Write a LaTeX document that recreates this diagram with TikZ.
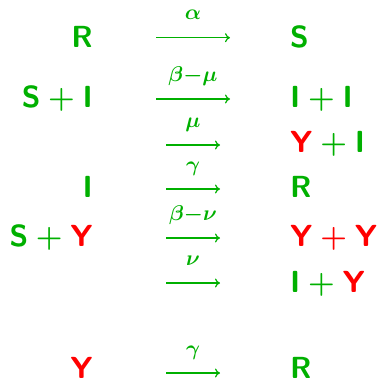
\RequirePackage{fix-cm}
\documentclass[tikz,border=0pt]{standalone}
\usetikzlibrary{arrows.meta}
\definecolor{simgreen}{RGB}{0,176,0}
\newcommand\spc[1]{\textbf{#1}}
\newcommand\infd{\textcolor{red}{\textbf{Y}}}
\newcommand\redplus{\mathbin{\color{red}+}}

\begin{document}
\begin{tikzpicture}[x=1pt,y=-1pt,
  species/.style={inner sep=0pt,text=simgreen,font=\fontsize{30.5}{36}\selectfont\sffamily\boldmath},
  rate/.style={inner sep=0pt,anchor=base,text=simgreen,font=\fontsize{30.5}{36}\selectfont\boldmath},
  react/.style={-{Computer Modern Rightarrow[length=5pt,width=9pt]},simgreen,line width=1.2pt}]
  \useasboundingbox (0,0) rectangle (382,381);
  \def\xl{93}  % right edge of the reactants
  \def\xr{290} % left edge of the products
  % reactants
  \foreach \n/\y/\txt in {1/47/{$\spc{R}$},2/107/{$\spc{S}+\spc{I}$},4/197/{$\spc{I}$},
      5/246/{$\spc{S}+\infd$},7/378.5/{$\infd$}}{
    \node[species,anchor=base east] (lhs\n) at (\xl,\y) {\txt};
  }
  % products
  \foreach \n/\y/\txt in {1/47/{$\spc{S}$},2/107/{$\spc{I}+\spc{I}$},3/152/{$\infd+\spc{I}$},
      4/197/{$\spc{R}$},5/246/{$\infd\redplus\infd$},6/292/{$\spc{I}+\infd$},7/378.5/{$\spc{R}$}}{
    \node[species,anchor=base west] (rhs\n) at (\xr,\y) {\txt};
  }
  % arrows with rates
  \foreach \n/\y/\a/\b/\k in {1/37.7/156/230/{\alpha},2/99/156/230/{\beta-\mu},3/145/166/220/{\mu},
      4/189/166/220/{\gamma},5/238/166/220/{\beta-\nu},6/283/166/220/{\nu},7/373/166/220/{\gamma}}{
    \coordinate (from\n) at (\a,\y);
    \coordinate (to\n) at (\b,\y);
    \draw[react] (from\n) -- (to\n) node[rate,midway,yshift=18pt] (rate\n) {$\scriptstyle\k$};
  }
\end{tikzpicture}
\end{document}
